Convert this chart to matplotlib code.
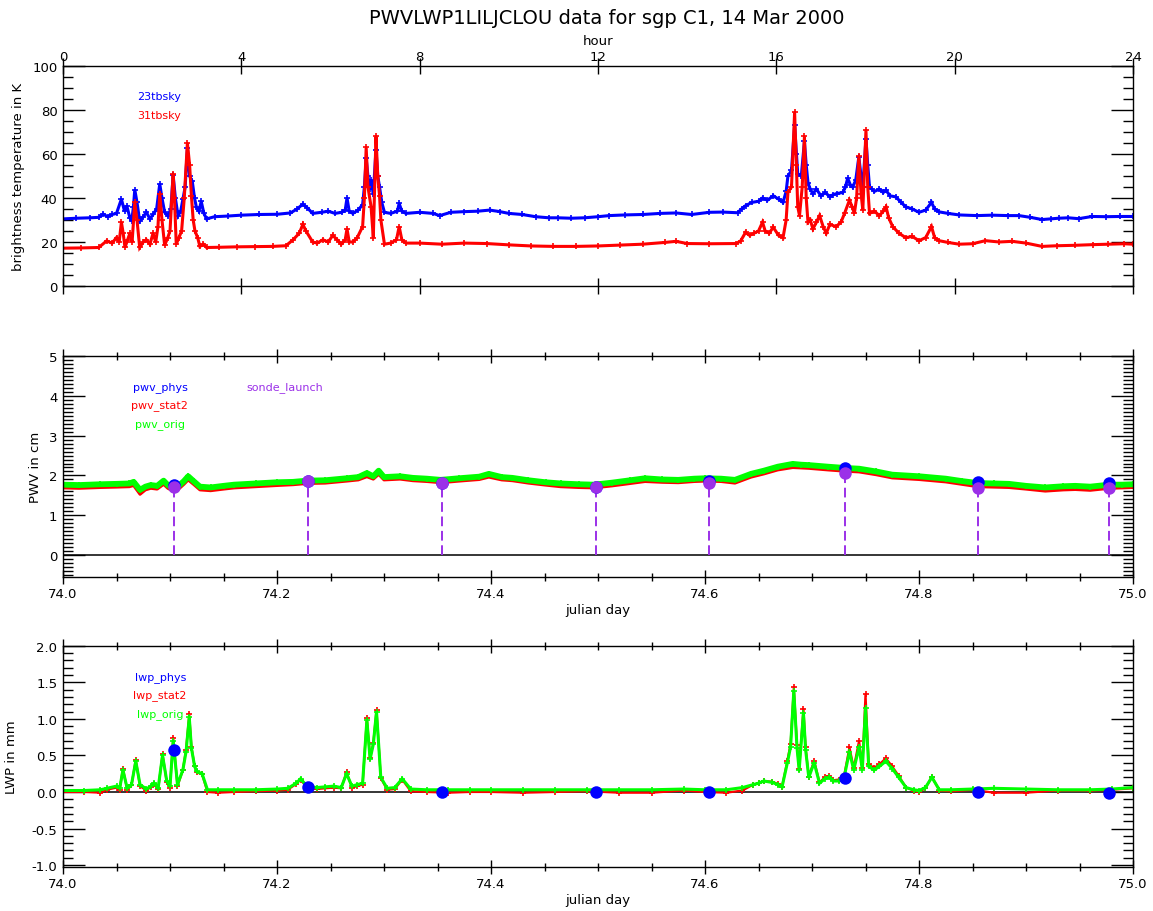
import matplotlib
matplotlib.use("Agg")
import matplotlib.pyplot as plt
from matplotlib.ticker import MultipleLocator, FormatStrFormatter

# brightness temperatures (hour of day, K)
hour_23 = [0.0, 0.3, 0.6, 0.8, 0.9, 1.0, 1.1, 1.2, 1.31, 1.38, 1.43, 1.5, 1.54, 1.58, 1.61, 1.66, 1.72, 1.8, 1.87, 1.95,
           2.02, 2.1, 2.17, 2.22, 2.28, 2.35, 2.42, 2.47, 2.52, 2.58, 2.64, 2.69, 2.74, 2.79, 2.84, 2.9, 2.95, 2.99, 3.05, 3.1,
           3.16, 3.22, 3.4, 3.7, 4.0, 4.4, 4.8, 5.1, 5.25, 5.38, 5.48, 5.6, 5.8, 5.95, 6.1, 6.25, 6.33, 6.37, 6.42, 6.5,
           6.62, 6.72, 6.76, 6.8, 6.84, 6.88, 6.91, 6.96, 7.02, 7.06, 7.1, 7.15, 7.21, 7.35, 7.5, 7.54, 7.6, 7.69, 8.0, 8.3,
           8.45, 8.7, 9.0, 9.3, 9.57, 9.8, 10.0, 10.3, 10.6, 10.9, 11.1, 11.4, 11.7, 12.0, 12.25, 12.6, 13.0, 13.4, 13.75, 14.1,
           14.5, 14.8, 15.13, 15.22, 15.31, 15.45, 15.6, 15.69, 15.8, 15.93, 16.05, 16.15, 16.22, 16.26, 16.34, 16.41, 16.45, 16.48, 16.56, 16.63,
           16.67, 16.71, 16.76, 16.82, 16.9, 17.0, 17.1, 17.2, 17.27, 17.35, 17.49, 17.55, 17.6, 17.66, 17.71, 17.78, 17.85, 17.9, 17.94, 18.01,
           18.05, 18.09, 18.2, 18.31, 18.4, 18.46, 18.55, 18.68, 18.8, 18.9, 19.05, 19.2, 19.35, 19.48, 19.55, 19.65, 19.85, 20.1, 20.5, 20.84,
           21.2, 21.44, 21.7, 21.96, 22.15, 22.33, 22.55, 22.78, 23.08, 23.4, 23.7, 24.0]
tb23 = [30.5, 30.8, 31.0, 31.2, 32.7, 31.5, 32.5, 33.0, 39.5, 34.0, 36.5, 31.0, 29.5, 36.0, 43.8, 38.0, 29.5, 31.5, 33.5, 30.5,
        32.5, 35.0, 46.4, 40.0, 33.5, 32.0, 35.0, 50.5, 40.0, 32.0, 34.0, 39.5, 45.0, 62.5, 50.0, 47.5, 40.0, 36.0, 34.0, 38.5,
        33.0, 30.5, 31.5, 31.8, 32.2, 32.5, 32.6, 33.2, 35.0, 37.2, 35.5, 33.0, 33.5, 34.0, 33.0, 33.5, 34.5, 40.0, 34.0, 33.0,
        34.5, 37.0, 45.0, 58.0, 50.0, 44.0, 48.0, 42.0, 62.0, 50.0, 45.0, 38.0, 33.5, 33.0, 34.0, 37.5, 34.0, 33.0, 33.5, 33.0,
        32.0, 33.5, 33.8, 34.0, 34.5, 33.8, 33.0, 32.5, 31.5, 31.0, 31.0, 30.8, 31.0, 31.5, 32.0, 32.3, 32.5, 33.0, 33.2, 32.5,
        33.5, 33.6, 33.3, 35.0, 36.5, 38.0, 38.5, 40.0, 39.0, 41.0, 39.5, 38.0, 43.0, 50.0, 52.5, 73.0, 60.0, 51.0, 50.0, 65.7,
        55.0, 47.0, 44.0, 42.0, 44.0, 41.0, 42.5, 40.5, 41.5, 42.0, 42.5, 45.0, 49.0, 46.0, 45.0, 48.0, 58.6, 50.0, 45.0, 67.0,
        55.0, 45.0, 43.0, 44.0, 42.5, 43.5, 41.0, 40.5, 38.0, 36.0, 35.0, 33.5, 34.5, 38.0, 35.0, 33.7, 33.0, 32.3, 32.0, 32.2,
        32.0, 32.0, 31.2, 30.2, 30.5, 30.8, 31.0, 30.6, 31.6, 31.5, 31.6, 31.6]

hour_31 = [0.0, 0.4, 0.8, 0.98, 1.1, 1.2, 1.26, 1.31, 1.35, 1.39, 1.45, 1.5, 1.55, 1.61, 1.66, 1.72, 1.8, 1.87, 1.95, 2.02,
           2.08, 2.13, 2.17, 2.22, 2.28, 2.35, 2.4, 2.47, 2.5, 2.54, 2.6, 2.66, 2.72, 2.79, 2.84, 2.88, 2.92, 2.96, 3.02, 3.07,
           3.15, 3.22, 3.5, 3.9, 4.3, 4.7, 5.0, 5.16, 5.3, 5.38, 5.45, 5.6, 5.7, 5.83, 5.95, 6.05, 6.15, 6.24, 6.33, 6.37,
           6.42, 6.5, 6.6, 6.72, 6.76, 6.8, 6.84, 6.91, 6.96, 7.02, 7.06, 7.1, 7.13, 7.21, 7.35, 7.48, 7.54, 7.6, 7.69, 8.0,
           8.5, 9.0, 9.5, 10.0, 10.5, 11.0, 11.5, 12.0, 12.5, 13.0, 13.5, 13.75, 14.0, 14.5, 15.1, 15.2, 15.31, 15.4, 15.5, 15.6,
           15.69, 15.75, 15.84, 15.93, 16.05, 16.15, 16.22, 16.26, 16.34, 16.41, 16.45, 16.48, 16.52, 16.58, 16.63, 16.67, 16.71, 16.76, 16.82, 16.9,
           16.97, 17.05, 17.12, 17.2, 17.34, 17.45, 17.53, 17.64, 17.7, 17.75, 17.8, 17.85, 17.9, 17.94, 18.01, 18.05, 18.09, 18.2, 18.31, 18.4,
           18.46, 18.52, 18.61, 18.75, 18.9, 19.05, 19.2, 19.35, 19.48, 19.55, 19.65, 19.85, 20.1, 20.4, 20.69, 21.0, 21.29, 21.6, 21.96, 22.3,
           22.7, 23.1, 23.45, 23.8, 24.0]
tb31 = [17.2, 17.3, 17.5, 20.5, 19.5, 22.0, 20.0, 29.0, 24.0, 17.5, 21.0, 24.0, 20.0, 38.0, 30.0, 17.5, 20.0, 21.0, 19.0, 24.0,
        20.0, 27.0, 42.0, 30.0, 18.5, 22.0, 25.0, 51.0, 40.0, 19.0, 22.0, 25.0, 40.0, 65.0, 55.0, 41.0, 30.0, 25.0, 22.0, 18.0,
        19.0, 17.5, 17.6, 17.8, 17.9, 18.0, 18.3, 21.0, 24.0, 28.0, 25.0, 20.0, 19.5, 21.0, 20.0, 23.0, 21.0, 19.0, 21.0, 26.0,
        20.0, 20.0, 22.0, 27.0, 40.0, 63.0, 45.0, 36.0, 22.0, 68.0, 50.0, 41.0, 30.0, 19.0, 19.5, 21.0, 27.0, 21.0, 19.5, 19.5,
        19.0, 19.5, 19.3, 18.7, 18.2, 18.0, 18.0, 18.2, 18.6, 19.0, 19.8, 20.3, 19.3, 19.2, 19.3, 20.5, 24.4, 23.0, 24.0, 25.0,
        29.0, 25.0, 24.0, 26.7, 23.0, 22.0, 30.0, 42.6, 45.0, 79.0, 55.0, 36.0, 32.0, 45.0, 68.0, 40.0, 29.0, 30.0, 26.0, 29.0,
        32.0, 27.0, 24.0, 28.0, 27.0, 29.0, 33.0, 39.0, 36.0, 33.0, 40.0, 59.0, 42.0, 34.5, 71.0, 45.0, 33.0, 34.0, 32.0, 34.0,
        36.0, 31.0, 27.0, 24.0, 22.0, 22.5, 20.6, 22.0, 27.0, 22.0, 20.6, 19.8, 19.0, 19.2, 20.6, 20.0, 20.3, 19.5, 18.0, 18.3,
        18.5, 18.8, 19.0, 19.2, 19.0]

# precipitable water vapour (julian day, cm)
pwv_jd = [74.0, 74.015, 74.035, 74.05, 74.062, 74.066, 74.072, 74.077, 74.082, 74.088,
          74.094, 74.098, 74.103, 74.108, 74.113, 74.117, 74.122, 74.128, 74.138, 74.15,
          74.16, 74.18, 74.2, 74.215, 74.228, 74.245, 74.265, 74.276, 74.284, 74.29,
          74.295, 74.3, 74.315, 74.327, 74.34, 74.353, 74.37, 74.389, 74.398, 74.41,
          74.42, 74.435, 74.451, 74.465, 74.482, 74.496, 74.513, 74.53, 74.544, 74.56,
          74.575, 74.59, 74.6, 74.615, 74.628, 74.643, 74.655, 74.668, 74.682, 74.69,
          74.697, 74.715, 74.73, 74.744, 74.76, 74.775, 74.8, 74.825, 74.84, 74.855,
          74.87, 74.884, 74.9, 74.918, 74.935, 74.946, 74.96, 74.978, 74.99, 75.0]
pwv_orig = [1.77, 1.76, 1.78, 1.79, 1.80, 1.84, 1.64, 1.72, 1.76, 1.74,
            1.87, 1.76, 1.68, 1.74, 1.86, 1.98, 1.86, 1.72, 1.70, 1.74,
            1.77, 1.80, 1.83, 1.84, 1.87, 1.88, 1.93, 1.96, 2.06, 1.98,
            2.12, 1.96, 1.98, 1.94, 1.92, 1.89, 1.93, 1.97, 2.04, 1.96,
            1.94, 1.88, 1.83, 1.80, 1.78, 1.77, 1.82, 1.88, 1.93, 1.90,
            1.89, 1.92, 1.93, 1.92, 1.89, 2.04, 2.12, 2.22, 2.29, 2.27,
            2.26, 2.22, 2.19, 2.17, 2.10, 2.02, 1.98, 1.92, 1.86, 1.81,
            1.80, 1.79, 1.74, 1.70, 1.73, 1.74, 1.72, 1.77, 1.77, 1.78]
pwv_stat2 = [1.69, 1.68, 1.70, 1.71, 1.72, 1.75, 1.53, 1.64, 1.68, 1.66,
             1.78, 1.68, 1.61, 1.66, 1.78, 1.89, 1.78, 1.64, 1.62, 1.66,
             1.69, 1.72, 1.75, 1.77, 1.80, 1.81, 1.86, 1.89, 1.97, 1.91,
             2.03, 1.89, 1.91, 1.87, 1.85, 1.82, 1.86, 1.90, 1.96, 1.89,
             1.87, 1.81, 1.76, 1.72, 1.70, 1.69, 1.74, 1.80, 1.85, 1.83,
             1.82, 1.85, 1.86, 1.85, 1.81, 1.96, 2.04, 2.14, 2.20, 2.19,
             2.18, 2.14, 2.11, 2.09, 2.02, 1.94, 1.90, 1.84, 1.78, 1.72,
             1.71, 1.70, 1.66, 1.61, 1.64, 1.65, 1.63, 1.68, 1.69, 1.70]

sonde_jd = [74.104, 74.229, 74.354, 74.498, 74.604, 74.731, 74.855, 74.978]
sonde_pwv = [1.72, 1.85, 1.80, 1.70, 1.82, 2.07, 1.68, 1.68]
pwv_phys = [1.75, 1.87, 1.82, 1.72, 1.86, 2.18, 1.84, 1.80]

# liquid water path (julian day, mm)
lwp_jd = [74.0, 74.02, 74.035, 74.041, 74.05, 74.053, 74.056, 74.06, 74.064, 74.068,
          74.072, 74.078, 74.082, 74.085, 74.089, 74.093, 74.097, 74.1, 74.103, 74.107,
          74.112, 74.115, 74.118, 74.12, 74.123, 74.125, 74.13, 74.135, 74.145, 74.16,
          74.18, 74.2, 74.21, 74.218, 74.222, 74.228, 74.237, 74.245, 74.253, 74.26,
          74.265, 74.27, 74.275, 74.28, 74.284, 74.287, 74.29, 74.293, 74.297, 74.303,
          74.31, 74.317, 74.325, 74.34, 74.36, 74.38, 74.4, 74.43, 74.46, 74.49,
          74.52, 74.55, 74.58, 74.6, 74.62, 74.635, 74.645, 74.65, 74.655, 74.663,
          74.668, 74.672, 74.677, 74.68, 74.683, 74.686, 74.688, 74.692, 74.694, 74.697,
          74.702, 74.707, 74.712, 74.716, 74.72, 74.725, 74.73, 74.735, 74.739, 74.744,
          74.747, 74.75, 74.753, 74.758, 74.763, 74.769, 74.775, 74.781, 74.788, 74.795,
          74.8, 74.806, 74.812, 74.819, 74.83, 74.85, 74.87, 74.9, 74.93, 74.96,
          74.98, 75.0]
lwp_orig = [0.02, 0.02, 0.03, 0.05, 0.08, 0.05, 0.30, 0.05, 0.10, 0.42,
            0.10, 0.04, 0.08, 0.12, 0.06, 0.50, 0.15, 0.08, 0.70, 0.10,
            0.30, 0.55, 1.02, 0.60, 0.35, 0.28, 0.25, 0.03, 0.03, 0.03,
            0.03, 0.04, 0.05, 0.12, 0.18, 0.08, 0.06, 0.07, 0.08, 0.06,
            0.25, 0.08, 0.10, 0.12, 0.98, 0.45, 0.65, 1.10, 0.20, 0.05,
            0.06, 0.18, 0.04, 0.03, 0.03, 0.03, 0.03, 0.03, 0.03, 0.03,
            0.03, 0.03, 0.04, 0.03, 0.03, 0.06, 0.10, 0.12, 0.15, 0.13,
            0.10, 0.07, 0.40, 0.62, 1.38, 0.60, 0.30, 1.08, 0.58, 0.20,
            0.40, 0.12, 0.18, 0.20, 0.15, 0.15, 0.20, 0.55, 0.30, 0.62,
            0.30, 1.15, 0.35, 0.30, 0.35, 0.42, 0.32, 0.20, 0.06, 0.03,
            0.02, 0.06, 0.20, 0.03, 0.03, 0.04, 0.05, 0.04, 0.03, 0.03,
            0.04, 0.06]
lwp_stat2 = [0.00, 0.00, -0.01, 0.03, 0.06, 0.03, 0.32, 0.03, 0.09, 0.44,
             0.08, 0.02, 0.07, 0.11, 0.04, 0.52, 0.13, 0.06, 0.74, 0.08,
             0.30, 0.58, 1.06, 0.62, 0.35, 0.27, 0.24, 0.00, -0.01, 0.00,
             0.01, 0.02, 0.03, 0.11, 0.17, 0.06, 0.04, 0.05, 0.06, 0.05,
             0.27, 0.06, 0.08, 0.10, 1.01, 0.46, 0.67, 1.12, 0.19, 0.03,
             0.04, 0.17, 0.01, 0.00, -0.01, 0.00, 0.00, -0.01, 0.00, 0.01,
             -0.01, -0.01, 0.02, 0.00, -0.01, 0.02, 0.10, 0.12, 0.15, 0.14,
             0.11, 0.07, 0.43, 0.66, 1.43, 0.64, 0.31, 1.14, 0.61, 0.21,
             0.43, 0.13, 0.20, 0.22, 0.16, 0.17, 0.22, 0.61, 0.33, 0.70,
             0.33, 1.34, 0.38, 0.33, 0.38, 0.46, 0.35, 0.22, 0.06, 0.02,
             0.00, 0.05, 0.21, 0.02, 0.01, 0.03, -0.01, -0.01, 0.02, 0.02,
             0.03, 0.05]
lwp_phys = [0.57, 0.07, 0.0, 0.0, 0.0, 0.19, 0.0, -0.01]

BLUE = '#0000ff'
RED = '#ff0000'
GREEN = '#00ff00'
PURPLE = '#9b30e8'


def style_axes(ax, ymajor, yminor):
    for s in ax.spines.values():
        s.set_linewidth(1.0)
    ax.yaxis.set_major_locator(MultipleLocator(ymajor))
    ax.yaxis.set_minor_locator(MultipleLocator(yminor))
    ax.tick_params(axis='y', which='major', direction='in', length=15.5, width=1,
                   left=True, right=True, labelsize=9.5, pad=4)
    ax.tick_params(axis='y', which='minor', direction='in', length=7, width=1,
                   left=True, right=True)


def series(ax, x, y, color, lw):
    ax.plot(x, y, '-', color=color, lw=lw, solid_joinstyle='miter')
    ax.plot(x, y, '+', color=color, ms=4, mew=1.2)


fig = plt.figure(figsize=(11.53, 9.12), dpi=100)
ax1 = fig.add_axes([0.05464, 0.68531, 0.92802, 0.24123])
ax2 = fig.add_axes([0.05464, 0.36590, 0.92802, 0.24298])
ax3 = fig.add_axes([0.05464, 0.04792, 0.92802, 0.24298])

fig.text(0.526, 1 - 19 / 912, 'PWVLWP1LILJCLOU data for sgp C1, 14 Mar 2000',
         ha='center', va='center', fontsize=14)

# --- top panel: brightness temperatures
series(ax1, hour_23, tb23, BLUE, 2.2)
series(ax1, hour_31, tb31, RED, 2.2)
ax1.set_xlim(0, 24)
ax1.set_ylim(0, 100)
style_axes(ax1, 20, 5)
ax1.xaxis.set_major_locator(MultipleLocator(4))
ax1.tick_params(axis='x', which='major', direction='inout', length=12, width=1,
                top=True, bottom=True, labeltop=True, labelbottom=False,
                labelsize=9.5, pad=-3.5)
ax1.text(0.5, 1.115, 'hour', transform=ax1.transAxes, ha='center', va='center', fontsize=9.5)
ax1.text(-0.042, 0.5, 'brightness temperature in K', transform=ax1.transAxes,
         rotation=90, ha='center', va='center', fontsize=9.5)
ax1.text(0.069, 0.864, '23tbsky', transform=ax1.transAxes, color=BLUE, fontsize=8, va='center')
ax1.text(0.069, 0.777, '31tbsky', transform=ax1.transAxes, color=RED, fontsize=8, va='center')

# --- middle panel: PWV
ax2.axhline(0, color='k', lw=1.1)
ax2.vlines(sonde_jd, 0, sonde_pwv, colors=PURPLE, linestyles=(0, (5, 2.4)), lw=1.4)
ax2.plot(pwv_jd, pwv_stat2, '-', color=RED, lw=2.2)
ax2.plot(pwv_jd, pwv_orig, '-', color=GREEN, lw=4.2)
ax2.plot(pwv_jd, pwv_orig, '+', color=GREEN, ms=4, mew=1.2)
ax2.plot(sonde_jd, pwv_phys, 'o', color=BLUE, ms=9, mec='none')
ax2.plot(sonde_jd, sonde_pwv, 'o', color=PURPLE, ms=9, mec='none')
ax2.set_xlim(74.0, 75.0)
ax2.set_ylim(-0.55, 5.0)
style_axes(ax2, 1, 0.1)

# --- bottom panel: LWP
ax3.axhline(0, color='k', lw=1.1)
series(ax3, lwp_jd, lwp_stat2, RED, 1.6)
series(ax3, lwp_jd, lwp_orig, GREEN, 2.2)
ax3.plot(sonde_jd, lwp_phys, 'o', color=BLUE, ms=9, mec='none')
ax3.set_xlim(74.0, 75.0)
ax3.set_ylim(-1.03, 2.0)
style_axes(ax3, 0.5, 0.1)
ax3.yaxis.set_major_formatter(FormatStrFormatter('%.1f'))

for ax in (ax2, ax3):
    ax.xaxis.set_major_locator(MultipleLocator(0.2))
    ax.xaxis.set_minor_locator(MultipleLocator(0.05))
    ax.xaxis.set_major_formatter(FormatStrFormatter('%.1f'))
    ax.tick_params(axis='x', which='major', direction='inout', length=10, width=1,
                   top=True, bottom=True, labelsize=9.5, pad=2)
    ax.tick_params(axis='x', which='minor', direction='inout', length=6, width=1,
                   top=True, bottom=True)
    ax.text(0.5, -0.146, 'julian day', transform=ax.transAxes, ha='center', va='center', fontsize=9.5)

ax2.text(-0.026, 0.5, 'PWV in cm', transform=ax2.transAxes, rotation=90,
         ha='center', va='center', fontsize=9.5)
ax2.text(0.0654, 0.861, 'pwv_phys', transform=ax2.transAxes, color=BLUE, fontsize=8, va='center')
ax2.text(0.0636, 0.778, 'pwv_stat2', transform=ax2.transAxes, color=RED, fontsize=8, va='center')
ax2.text(0.0673, 0.692, 'pwv_orig', transform=ax2.transAxes, color=GREEN, fontsize=8, va='center')
ax2.text(0.171, 0.861, 'sonde_launch', transform=ax2.transAxes, color=PURPLE, fontsize=8, va='center')

ax3.text(-0.048, 0.5, 'LWP in mm', transform=ax3.transAxes, rotation=90,
         ha='center', va='center', fontsize=9.5)
ax3.text(0.0673, 0.861, 'lwp_phys', transform=ax3.transAxes, color=BLUE, fontsize=8, va='center')
ax3.text(0.0654, 0.778, 'lwp_stat2', transform=ax3.transAxes, color=RED, fontsize=8, va='center')
ax3.text(0.0692, 0.692, 'lwp_orig', transform=ax3.transAxes, color=GREEN, fontsize=8, va='center')

fig.savefig('out.png', dpi=100)
